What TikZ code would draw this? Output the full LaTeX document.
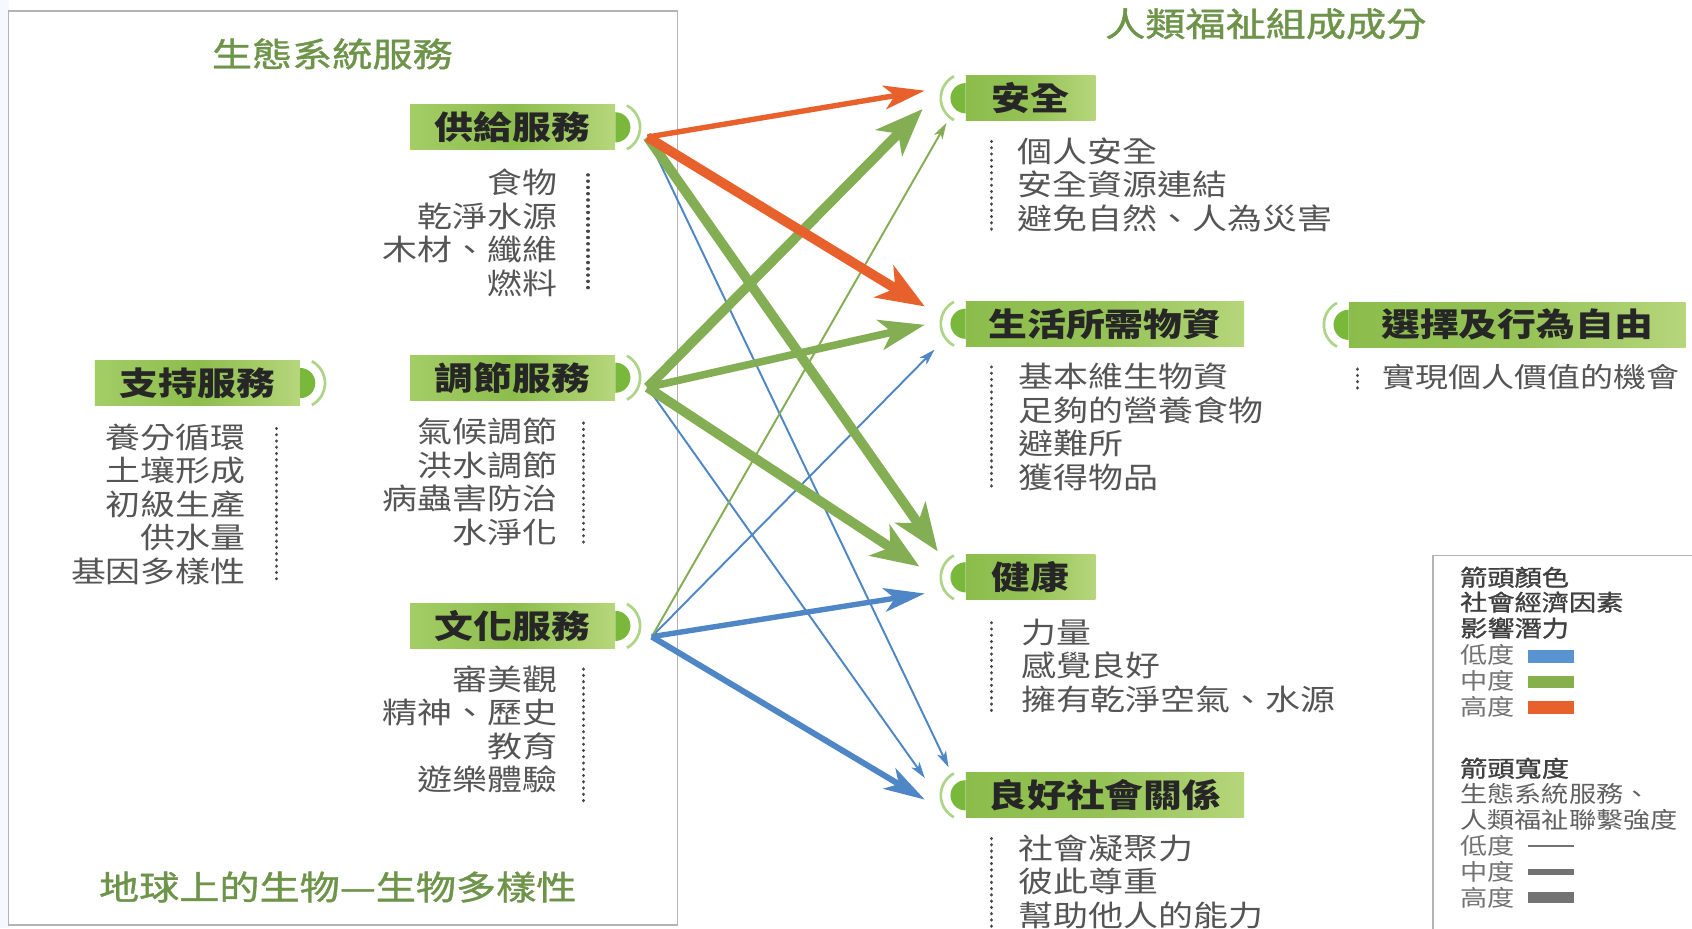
\documentclass[tikz,border=0pt]{standalone}
\usepackage{fontspec}
\usetikzlibrary{arrows.meta}
\newfontfamily\cjk[FakeStretch=1.2]{Noto Sans CJK TC}
\newfontfamily\cjkfb[FakeStretch=1.2,FakeBold=1.2]{Noto Sans CJK TC}
\definecolor{cO}{HTML}{E8612C}
\definecolor{cG}{HTML}{84AE53}
\definecolor{cB}{HTML}{4F87C6}
\definecolor{gA}{HTML}{A4CD66}
\definecolor{gB}{HTML}{8CBD4C}
\definecolor{gC}{HTML}{B6D67B}
\definecolor{gBump}{HTML}{79B83B}
\definecolor{gArc}{HTML}{AED487}
\definecolor{tGreen}{HTML}{6E944A}
\definecolor{tItem}{HTML}{555555}
\definecolor{tDot}{HTML}{474747}
\definecolor{tLab}{HTML}{262626}
\definecolor{lgB}{HTML}{5A94D0}
\definecolor{lgG}{HTML}{86B04C}
\definecolor{lgO}{HTML}{E8602C}
\definecolor{frameC}{HTML}{B4B4B4}
\begin{document}
\begin{tikzpicture}[x=1pt,y=-1pt,
  title/.style={font=\cjkfb\fontsize{31}{36}\selectfont, text=tGreen, inner sep=0},
  gboxL/.style={font=\cjk\bfseries\fontsize{30}{34}\selectfont, text=tLab, inner sep=0,
     minimum height=42pt, left color=gA, right color=gC, middle color=gB},
  gboxR/.style={font=\cjk\bfseries\fontsize{30}{34}\selectfont, text=tLab, inner sep=0,
     minimum height=42pt, left color=gB, right color=gC, middle color=gB!80!gC},
  bump/.style={fill=gBump},
  ring/.style={draw=gArc, line width=2.5pt},
  itemR/.style={font=\cjk\fontsize{27}{31}\selectfont, text=tItem, inner sep=0, align=right, anchor=north east},
  itemL/.style={font=\cjk\fontsize{27}{31}\selectfont, text=tItem, inner sep=0, align=left, anchor=north west},
  dots/.style={draw=tDot, line width=3pt, dash pattern=on 0.2pt off 5.6pt, line cap=round},
  hiA/.style={line width=9pt, -{Stealth[length=44pt,width=34pt,inset=12pt]}},
  mhA/.style={line width=7pt, -{Stealth[length=42pt,width=28pt,inset=11pt]}},
  mdA/.style={line width=5pt, -{Stealth[length=38pt,width=22pt,inset=10pt]}},
  loA/.style={line width=1.8pt, -{Stealth[length=15pt,width=9pt,inset=4pt]}},
  lgh/.style={font=\cjkfb\fontsize{21}{24}\selectfont, text=black!75, inner sep=0, anchor=west},
  lgt/.style={font=\cjk\fontsize{21}{24}\selectfont, text=black!62, inner sep=0, anchor=west},
  lgl/.style={font=\cjk\fontsize{21}{24}\selectfont, text=black!55, inner sep=0, anchor=west}
]
\useasboundingbox (0,0) rectangle (1568,860);
\fill[white] (0,0) rectangle (1568,860);
\fill[black!4!blue!3] (0,0) rectangle (8,860);

% left frame
\draw[frameC, line width=1.5pt] (8,10) rectangle (628,857);

% titles
\node[title] (tEco) at (308,50) {生態系統服務};
\node[title] (tBio) at (313,822) {地球上的生物—生物多樣性};
\node[title] (tHum) at (1173,22) {人類福祉組成成分};

% left service boxes
\node[gboxL, minimum width=190pt] (prov) at (475,118) {供給服務};
\node[gboxL, minimum width=190pt] (regu) at (475,350) {調節服務};
\node[gboxL, minimum width=190pt] (cult) at (475,580) {文化服務};
\node[gboxL, minimum width=190pt] (supp) at (183,355) {支持服務};
\foreach \n in {prov,regu,cult,supp}{
  \fill[bump] (\n.east) ++(0,-14) arc[start angle=-90,end angle=90,radius=14] -- cycle;
  \draw[ring] (\n.east) ++(-62:23) arc[start angle=-62,end angle=62,radius=23];
}

% right well-being boxes
\node[gboxR, minimum width=120pt] (secu) at (955,91) {安全};
\node[gboxR, minimum width=258pt] (matl) at (1024,300) {生活所需物資};
\node[gboxR, minimum width=120pt] (hlth) at (955,535) {健康};
\node[gboxR, minimum width=258pt] (soci) at (1024,737) {良好社會關係};
\node[gboxR, minimum width=312pt] (free) at (1406,301) {選擇及行為自由};
\foreach \n in {secu,matl,hlth,soci,free}{
  \fill[bump] (\n.west) ++(0,-14) arc[start angle=-90,end angle=-270,radius=14] -- cycle;
  \draw[ring] (\n.west) ++(118:23) arc[start angle=118,end angle=242,radius=23];
}

% left lists
\node[itemR] (lp) at (517,156.5) {食物\\乾淨水源\\木材、纖維\\燃料};
\draw[dots] (545,162) -- (545,270);
\node[itemR] (lr) at (517,387.5) {氣候調節\\洪水調節\\病蟲害防治\\水淨化};
\draw[dots] (541,392) -- (541,505);
\node[itemR] (lc) at (517,616.5) {審美觀\\精神、歷史\\教育\\遊樂體驗};
\draw[dots] (541,620) -- (541,745);
\node[itemR] (ls) at (228,392.5) {養分循環\\土壤形成\\初級生產\\供水量\\基因多樣性};
\draw[dots] (256,397) -- (256,537);

% right lists
\node[itemL] (rs) at (943,127.5) {個人安全\\安全資源連結\\避免自然、人為災害};
\draw[dots] (919,131) -- (919,215);
\node[itemL] (rm) at (944,336.5) {基本維生物資\\足夠的營養食物\\避難所\\獲得物品};
\draw[dots] (919,340) -- (919,452);
\node[itemL] (rh) at (946,573.5) {力量\\感覺良好\\擁有乾淨空氣、水源};
\draw[dots] (919,577) -- (919,660);
\node[itemL] (rc) at (944,773.5) {社會凝聚力\\彼此尊重\\幫助他人的能力};
\draw[dots] (919,777) -- (919,860);
\node[itemL, font=\cjk\fontsize{25.5}{30}\selectfont] (rf) at (1281,337.5) {實現個人價值的機會};
\draw[dots] (1258,342) -- (1258,362);

% arrow end points
\coordinate (s1) at (600,127);
\coordinate (s2) at (600,359);
\coordinate (s3) at (604,590);
\coordinate (tSo) at (857,84);
\coordinate (tSg) at (855,101);
\coordinate (tSt) at (877,114);
\coordinate (tMo) at (857,284);
\coordinate (tMg) at (857,301);
\coordinate (tMb) at (866,324);
\coordinate (tHg1) at (869,511);
\coordinate (tHg2) at (852,525);
\coordinate (tHb) at (857,550);
\coordinate (tCb2) at (857,721);
\coordinate (tCb1) at (879,711);
\coordinate (tCb3) at (857,741);

% arrows
\draw[cB, loA] (s1) -- (tCb1);
\draw[cB, loA] (s2) -- (tCb2);
\draw[cB, loA] (s3) -- (tMb);
\draw[cG, loA] (s3) -- (tSt);
\draw[cG, hiA] (s1) -- (tHg1);
\draw[cG, hiA] (s2) -- (tSg);
\draw[cG, mhA] (s2) -- (tMg);
\draw[cG, hiA] (s2) -- (tHg2);
\draw[cB, mdA] (s3) -- (tHb);
\draw[cB, mdA, line width=5.5pt] (s3) -- (tCb3);
\draw[cO, mdA] (s1) -- (tSo);
\draw[cO, hiA] (s1) -- (tMo);

% legend
\draw[frameC, line width=1.3pt] (1570,515) -- (1328,515) -- (1328,862);
\node[lgh] (lg1) at (1353,535) {箭頭顏色};
\node[lgh] (lg2) at (1353,558) {社會經濟因素};
\node[lgh] (lg3) at (1353,582) {影響潛力};
\node[lgl] (lg4) at (1353,607) {低度};
\node[lgl] (lg5) at (1353,631) {中度};
\node[lgl] (lg6) at (1353,655) {高度};
\fill[lgB] (1416,602) rectangle (1459,614);
\fill[lgG] (1416,626) rectangle (1459,638);
\fill[lgO] (1416,650) rectangle (1459,662);
\node[lgh] (lg7) at (1353,712) {箭頭寬度};
\node[lgt] (lg8) at (1353,736) {生態系統服務、};
\node[lgt] (lg9) at (1353,760) {人類福祉聯繫強度};
\node[lgl] (lg10) at (1353,784) {低度};
\node[lgl] (lg11) at (1353,808) {中度};
\node[lgl] (lg12) at (1353,832) {高度};
\draw[black!55, line width=1.6pt] (1416,784) -- (1459,784);
\draw[black!55, line width=6pt] (1416,808) -- (1459,808);
\draw[black!55, line width=10pt] (1416,832) -- (1459,832);
\end{tikzpicture}
\end{document}
